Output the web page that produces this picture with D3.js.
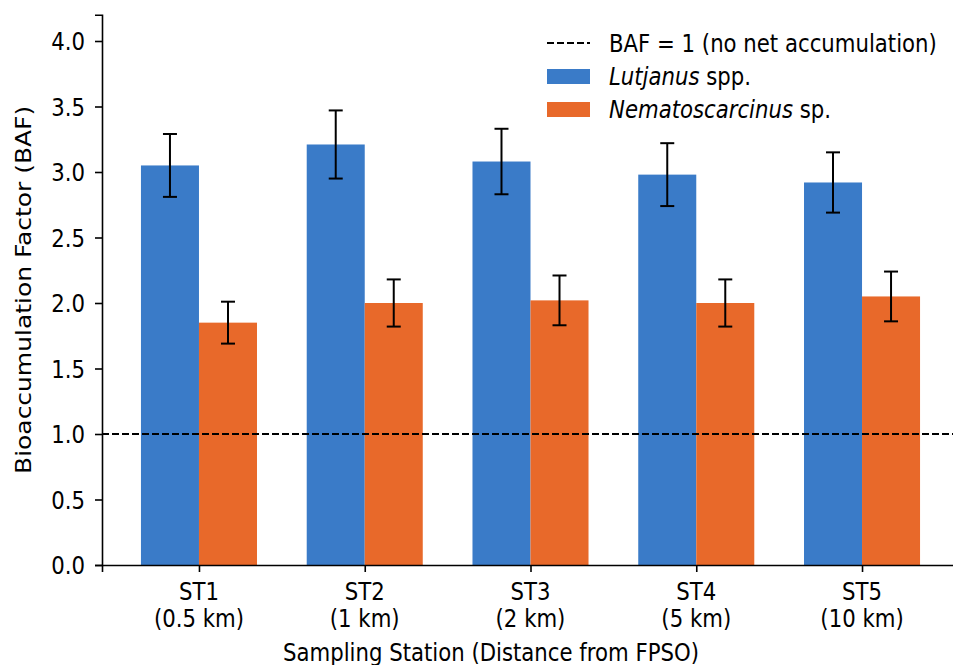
<!DOCTYPE html>
<html>
<head>
<meta charset="utf-8">
<script src="https://cdn.jsdelivr.net/npm/d3@7/dist/d3.min.js"></script>
<style>
  body { margin: 0; background: #fff; }
  text { font-family: "DejaVu Sans", sans-serif; fill: #000; font-size: 24px; }
</style>
</head>
<body>
<script>
// station labels and BAF values
var stations = ["ST1", "ST2", "ST3", "ST4", "ST5"];
var distances = ["(0.5 km)", "(1 km)", "(2 km)", "(5 km)", "(10 km)"];
var lutjanus = [3.05, 3.21, 3.08, 2.98, 2.92];
var lutjanusErr = [0.24, 0.26, 0.25, 0.24, 0.23];
var nemato = [1.85, 2.00, 2.02, 2.00, 2.05];
var nematoErr = [0.16, 0.18, 0.19, 0.18, 0.19];
var yTicks = [0, 0.5, 1, 1.5, 2, 2.5, 3, 3.5, 4];

var width = 953,
    height = 665;

var blue = "#3a7bc8", orange = "#e8692a";
var barW = 0.35;
var squeeze = 0.885; // the reference text is a bit narrow

var svg = d3.select("body").append("svg")
    .attr("width", width)
    .attr("height", height);

var x = d3.scaleLinear()
    .domain([-0.585, 4.585])
    .range([102, 959]);

var y = d3.scaleLinear()
    .domain([0, 4.2])
    .range([565, 14.8]);

// horizontal text, squeezed in x
function label(parent, tx, ty, anchor) {
    return parent.append("text")
        .attr("transform", "translate(" + tx + "," + ty + ") scale(" + squeeze + ",1)")
        .attr("text-anchor", anchor);
}

var series = [
    {vals: lutjanus, err: lutjanusErr, color: blue, off: -barW / 2},
    {vals: nemato, err: nematoErr, color: orange, off: barW / 2}
];

var g = svg.append("g");

series.forEach(function (s) {
    g.selectAll(null)
        .data(s.vals)
        .enter().append("rect")
        .attr("x", function (d, i) { return x(i + s.off - barW / 2); })
        .attr("width", x(barW) - x(0))
        .attr("y", function (d) { return y(d); })
        .attr("height", function (d) { return y(0) - y(d); })
        .attr("fill", s.color);
});

// error bars
series.forEach(function (s) {
    var eb = g.selectAll(null)
        .data(s.vals)
        .enter().append("g")
        .attr("stroke", "#000")
        .attr("stroke-width", 2);
    eb.append("line")
        .attr("x1", function (d, i) { return x(i + s.off); })
        .attr("x2", function (d, i) { return x(i + s.off); })
        .attr("y1", function (d, i) { return y(d - s.err[i]); })
        .attr("y2", function (d, i) { return y(d + s.err[i]); });
    [-1, 1].forEach(function (sg) {
        eb.append("line")
            .attr("x1", function (d, i) { return x(i + s.off) - 7; })
            .attr("x2", function (d, i) { return x(i + s.off) + 7; })
            .attr("y1", function (d, i) { return y(d + sg * s.err[i]); })
            .attr("y2", function (d, i) { return y(d + sg * s.err[i]); });
    });
});

// BAF = 1 reference
g.append("line")
    .attr("x1", x.range()[0])
    .attr("x2", x.range()[1])
    .attr("y1", y(1))
    .attr("y2", y(1))
    .attr("stroke", "#000")
    .attr("stroke-width", 2)
    .attr("stroke-dasharray", "7,3");

// axes (lines from d3, labels drawn squeezed)
var yAxis = svg.append("g")
    .attr("transform", "translate(" + x.range()[0] + ",0)")
    .call(d3.axisLeft(y).tickValues(yTicks).tickFormat("").tickSizeOuter(0).tickSize(7));

var xAxis = svg.append("g")
    .attr("transform", "translate(0," + y(0) + ")")
    .call(d3.axisBottom(x).tickValues(d3.range(stations.length)).tickFormat("").tickSizeOuter(0).tickSize(7));

[yAxis, xAxis].forEach(function (a) {
    a.select(".domain").attr("stroke", "#000").attr("stroke-width", 1.6);
    a.selectAll(".tick line").attr("stroke", "#000").attr("stroke-width", 1.6);
});

yTicks.forEach(function (v) {
    label(svg, 85, y(v) + 9, "end").text(d3.format(".1f")(v));
});

stations.forEach(function (s, i) {
    label(svg, x(i), 600, "middle").text(s);
    label(svg, x(i), 627, "middle").text(distances[i]);
});

label(svg, 491, 661, "middle").text("Sampling Station (Distance from FPSO)");

svg.append("text")
    .attr("transform", "translate(31," + (y(0) + y(4.2)) / 2 + ") rotate(-90) scale(1.04," + squeeze + ")")
    .attr("text-anchor", "middle")
    .text("Bioaccumulation Factor (BAF)");

// legend
var leg = svg.append("g").attr("transform", "translate(547,43)");
leg.append("line")
    .attr("x1", 0).attr("x2", 43)
    .attr("stroke", "#000").attr("stroke-width", 2)
    .attr("stroke-dasharray", "7,3");
label(leg, 62, 9, "start").text("BAF = 1 (no net accumulation)");

var items = [
    {color: blue, it: "Lutjanus", rest: " spp."},
    {color: orange, it: "Nematoscarcinus", rest: " sp."}
];
items.forEach(function (d, i) {
    var row = leg.append("g").attr("transform", "translate(0," + (33 * (i + 1)) + ")");
    row.append("rect").attr("x", 0).attr("y", -7).attr("width", 43).attr("height", 15).attr("fill", d.color);
    var t = label(row, 62, 9, "start");
    t.append("tspan").style("font-style", "italic").text(d.it);
    t.append("tspan").text(d.rest);
});
</script>
</body>
</html>
